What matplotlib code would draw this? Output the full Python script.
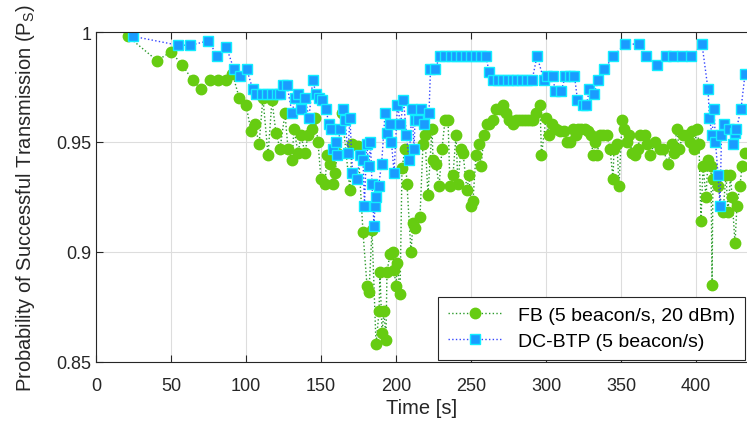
import matplotlib
matplotlib.use('Agg')
import matplotlib.pyplot as plt
import numpy as np

plt.rcParams['font.family'] = ['Liberation Sans', 'DejaVu Sans']
plt.rcParams['mathtext.fontset'] = 'custom'
plt.rcParams['mathtext.rm'] = 'Liberation Sans'

# FB (5 beacon/s, 20 dBm)
t_fb = [21.3, 40.7, 50, 57.5, 64.5, 70, 76, 81.5, 87, 91, 95.5, 100, 103.3, 106, 108.7,
        111.3, 114.7, 117.3, 120, 122.7, 126, 128, 130.7, 132, 134.7, 136.7, 139.3, 141.3,
        144, 146, 148, 150, 152.7, 154, 156, 158, 159.3, 161, 164, 169.3, 170.7, 174.7,
        178, 180.7, 182, 184, 186.7, 188.7, 189.3, 190.7, 192, 193.3, 194, 196, 198, 198.7,
        200, 201, 202.7, 204, 206, 207.3, 210, 211.3, 213, 216, 218, 219.3, 221.3, 224,
        224.7, 226.7, 228.7, 230.7, 232.7, 234.7, 236, 238, 240, 241.3, 243.3, 244.7, 247.3,
        248.7, 250, 251.3, 253.3, 255.3, 256.7, 258.7, 260.7, 262, 264.7, 266.7, 269.3,
        271.3, 273.3, 275.3, 278, 280, 282, 284, 286, 288, 290, 291.5, 293.3, 296, 297, 300,
        302, 304, 306.7, 309.3, 312, 314, 316, 318, 320, 321.3, 323.5, 326, 328, 330, 331.3,
        332.7, 334, 336, 338, 340.7, 342.7, 344.7, 345.3, 347.3, 348.7, 350.7, 352, 354,
        355.3, 357.3, 359.3, 361.3, 362.7, 366, 367.5, 369.3, 372.7, 376, 378, 381.3, 384,
        385.3, 387.3, 388.7, 391.3, 394, 396, 397.3, 398.7, 400.7, 402, 403.3, 404.7, 406.7,
        408, 410, 410.7, 411.3, 414.7, 418, 420, 421.3, 423, 424, 426, 427.3, 429.3, 430.7,
        432.7]
ps_fb = [0.998, 0.987, 0.991, 0.985, 0.978, 0.974, 0.978, 0.978, 0.978, 0.981, 0.970, 0.967,
         0.955, 0.958, 0.949, 0.970, 0.944, 0.969, 0.954, 0.947, 0.963, 0.947, 0.942, 0.956,
         0.945, 0.953, 0.945, 0.953, 0.956, 0.961, 0.950, 0.933, 0.931, 0.944, 0.940, 0.931,
         0.936, 0.945, 0.963, 0.928, 0.949, 0.948, 0.909, 0.8845, 0.882, 0.910, 0.858, 0.873,
         0.891, 0.863, 0.873, 0.860, 0.891, 0.899, 0.900, 0.892, 0.8845, 0.895, 0.881, 0.938,
         0.947, 0.931, 0.900, 0.913, 0.911, 0.916, 0.949, 0.953, 0.926, 0.956, 0.942, 0.940,
         0.930, 0.947, 0.960, 0.960, 0.930, 0.935, 0.953, 0.931, 0.947, 0.945, 0.928, 0.935,
         0.921, 0.923, 0.944, 0.949, 0.939, 0.953, 0.958, 0.958, 0.960, 0.965, 0.965, 0.967,
         0.963, 0.960, 0.958, 0.960, 0.960, 0.960, 0.960, 0.960, 0.960, 0.960, 0.963, 0.967,
         0.944, 0.961, 0.953, 0.958, 0.956, 0.955, 0.955, 0.950, 0.950, 0.956, 0.953, 0.956,
         0.956, 0.956, 0.955, 0.953, 0.944, 0.950, 0.944, 0.953, 0.953, 0.953, 0.947, 0.933,
         0.947, 0.949, 0.930, 0.960, 0.956, 0.950, 0.953, 0.945, 0.944, 0.947, 0.953, 0.953,
         0.949, 0.944, 0.950, 0.947, 0.947, 0.940, 0.949, 0.945, 0.956, 0.947, 0.953, 0.953,
         0.950, 0.955, 0.947, 0.956, 0.949, 0.914, 0.939, 0.925, 0.942, 0.939, 0.885, 0.933,
         0.930, 0.918, 0.935, 0.918, 0.935, 0.925, 0.904, 0.921, 0.930, 0.939, 0.945]

# DC-BTP (5 beacon/s)
t_dc = [25, 54.7, 63, 75, 81, 87, 92, 96, 100.5, 104.5, 107, 110.7, 114, 117.3, 120.7, 123,
        124.7, 127.3, 130.7, 132.7, 134.7, 137, 139.3, 142, 144.5, 146.7, 149, 151, 153.3,
        155.3, 157, 158, 160, 160.7, 162.7, 164.7, 166, 168, 169.3, 171, 174, 176, 178, 179,
        180.4, 182, 183, 184, 185.3, 186, 187, 188.4, 190.4, 192.7, 194, 196, 197, 198.7,
        201, 203, 205, 207, 208.7, 210.7, 212, 212.7, 214.7, 217, 219, 222, 223, 226, 229.3,
        233, 236.7, 240, 243.3, 246.7, 250, 253.3, 256.7, 260, 262, 264.7, 268, 271.3, 274.5,
        277.7, 281, 284.3, 287.5, 290.7, 294, 298.7, 301, 304.7, 306, 310, 313, 316, 319,
        321, 324.7, 327, 329, 332, 335, 339, 344.7, 353, 362, 367, 374, 380, 385, 391, 397,
        404, 408, 409, 410.7, 412, 413, 414.7, 416, 417, 418.7, 422, 424.7, 426, 427, 430,
        432.7]
ps_dc = [0.998, 0.994, 0.994, 0.996, 0.989, 0.993, 0.983, 0.980, 0.983, 0.974, 0.972, 0.972,
         0.972, 0.972, 0.972, 0.972, 0.976, 0.976, 0.963, 0.970, 0.972, 0.965, 0.970, 0.961,
         0.978, 0.972, 0.970, 0.969, 0.965, 0.958, 0.956, 0.947, 0.950, 0.944, 0.956, 0.965,
         0.960, 0.945, 0.961, 0.936, 0.933, 0.944, 0.942, 0.921, 0.949, 0.939, 0.950, 0.931,
         0.912, 0.921, 0.925, 0.930, 0.940, 0.963, 0.954, 0.958, 0.950, 0.936, 0.967, 0.958,
         0.969, 0.953, 0.942, 0.965, 0.947, 0.960, 0.960, 0.965, 0.958, 0.963, 0.983, 0.983,
         0.989, 0.989, 0.989, 0.989, 0.989, 0.989, 0.989, 0.989, 0.989, 0.989, 0.982, 0.978,
         0.978, 0.978, 0.978, 0.978, 0.978, 0.978, 0.978, 0.978, 0.989, 0.978, 0.980, 0.980,
         0.973, 0.973, 0.980, 0.980, 0.980, 0.969, 0.967, 0.967, 0.974, 0.972, 0.978, 0.983,
         0.989, 0.9945, 0.9945, 0.989, 0.985, 0.989, 0.989, 0.989, 0.989, 0.9945, 0.974,
         0.961, 0.953, 0.965, 0.950, 0.935, 0.921, 0.953, 0.958, 0.956, 0.949, 0.954, 0.956,
         0.965, 0.981]

fig = plt.figure(figsize=(7.47, 4.27), dpi=100)
ax = fig.add_axes([0.1285, 0.150, 0.8715, 0.7727])

ax.plot(t_fb, ps_fb, linestyle=':', color='#2a9a2a', linewidth=1.0,
        marker='o', markersize=7.5, markerfacecolor='#66cc11', markeredgecolor='#66cc11',
        label='FB (5 beacon/s, 20 dBm)')
ax.plot(t_dc, ps_dc, linestyle=':', color='#3344ff', linewidth=1.0,
        marker='s', markersize=6.8, markerfacecolor='#1a9cff', markeredgecolor='#11eeff',
        markeredgewidth=1.0, label='DC-BTP (5 beacon/s)')

ax.set_xlim(0, 434)
ax.set_ylim(0.85, 1.0)
ax.set_xticks(np.arange(0, 401, 50))
ax.set_yticks([0.85, 0.9, 0.95, 1.0])
ax.set_yticklabels(['0.85', '0.9', '0.95', '1'])
ax.grid(True, color='#dddddd', linewidth=0.8)
ax.set_axisbelow(True)
ax.tick_params(direction='in', length=5, labelsize=13, top=True, colors='#262626',
               labelcolor='#262626')
ax.tick_params(axis='x', pad=11)
for side in ['left', 'top', 'bottom']:
    ax.spines[side].set_color('#262626')
ax.spines['right'].set_visible(False)

ax.set_xlabel('Time [s]', fontsize=14.5, color='#262626', labelpad=3)
ax.set_ylabel(r'Probability of Successful Transmission (P$_\mathrm{S}$)', fontsize=14.5,
              color='#262626', labelpad=14)

leg = ax.legend(loc='lower right', fontsize=14, fancybox=False, framealpha=1,
                edgecolor='#262626', borderaxespad=0.1, handlelength=2.8,
                borderpad=0.5, labelspacing=0.45)
leg.get_frame().set_linewidth(0.8)

plt.savefig('out.png', dpi=100)
